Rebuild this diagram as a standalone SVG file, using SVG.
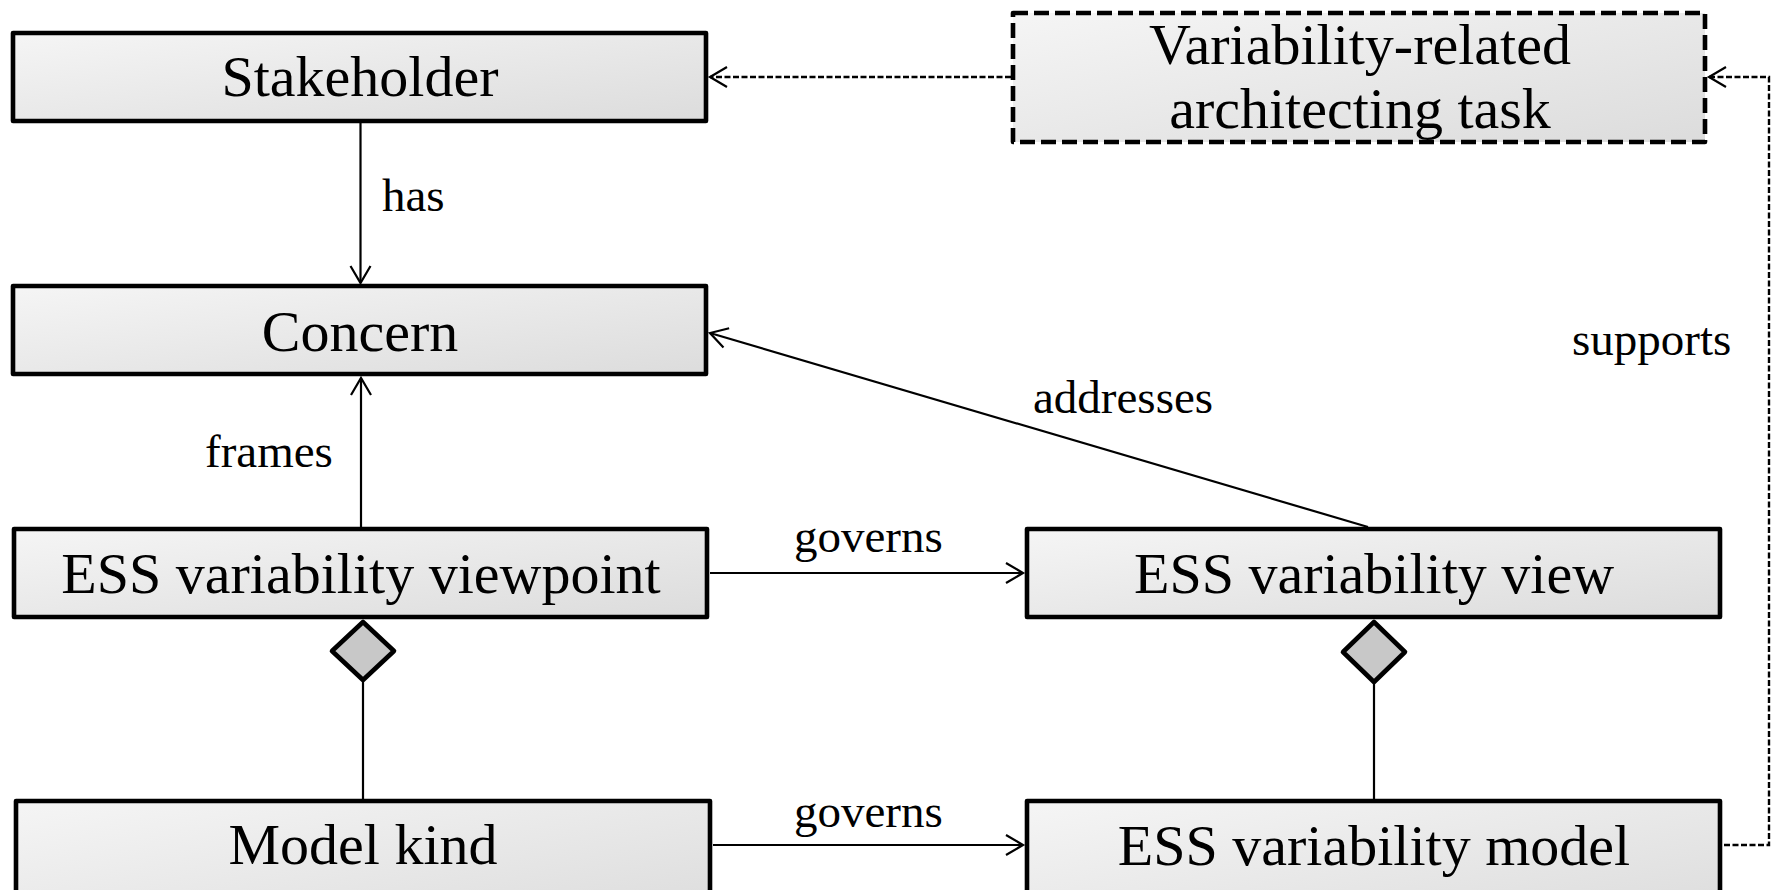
<svg xmlns="http://www.w3.org/2000/svg" width="1777" height="890" viewBox="0 0 1777 890">
<style>
.box{fill:url(#g);stroke:#000;stroke-width:4.6;stroke-linejoin:round}
.dbox{fill:url(#g);stroke:#000;stroke-width:4.6;stroke-dasharray:15 6;stroke-linejoin:round}
.nt{font-family:"Liberation Serif","Times New Roman",serif;font-size:58px;fill:#000;text-anchor:middle}
.lb{font-family:"Liberation Serif","Times New Roman",serif;font-size:47px;fill:#000}
.c{fill:none;stroke:#000;stroke-width:2.2}
.cd{fill:none;stroke:#000;stroke-width:2.4;stroke-dasharray:6 2.5}
.dia{fill:#c8c8c8;stroke:#000;stroke-width:4.6;stroke-linejoin:round}
</style>
<defs>
<linearGradient id="g" x1="0" y1="0" x2="1" y2="1">
<stop offset="0" stop-color="#f5f5f5"/>
<stop offset="1" stop-color="#dcdcdc"/>
</linearGradient>
<marker id="a" markerUnits="userSpaceOnUse" markerWidth="24" markerHeight="24" viewBox="-20 -12 24 24" refX="0" refY="0" orient="auto" overflow="visible">
<path d="M-17,-10 L0,0 L-17,10" fill="none" stroke="#000" stroke-width="2.2"/>
</marker>
</defs>
<g id="connectors">
<line class="c" x1="360.5" y1="123" x2="360.5" y2="283" marker-end="url(#a)"/>
<line class="c" x1="361" y1="527" x2="361" y2="378" marker-end="url(#a)"/>
<line class="c" x1="1368" y1="527" x2="710" y2="333" marker-end="url(#a)"/>
<line class="c" x1="710" y1="573" x2="1023" y2="573" marker-end="url(#a)"/>
<line class="c" x1="713" y1="845" x2="1023" y2="845" marker-end="url(#a)"/>
<line class="c" x1="363" y1="681" x2="363" y2="799"/>
<line class="c" x1="1374" y1="683" x2="1374" y2="799"/>
<line class="cd" x1="1011" y1="77" x2="710" y2="77" marker-end="url(#a)"/>
<polyline class="cd" points="1724,845 1769,845 1769,77 1709,77" marker-end="url(#a)"/>
<text class="lb" x="382" y="211">has</text>
<text class="lb" x="205" y="467">frames</text>
<text class="lb" x="1033" y="413">addresses</text>
<text class="lb" x="1572" y="355">supports</text>
<text class="lb" x="794" y="552">governs</text>
<text class="lb" x="794" y="827">governs</text>
</g>
<g id="stakeholder">
<rect class="box" x="13" y="33" width="693" height="88"/>
<text class="nt" x="360" y="96">Stakeholder</text>
</g>
<g id="concern">
<rect class="box" x="13" y="286" width="693" height="88"/>
<text class="nt" x="360" y="351">Concern</text>
</g>
<g id="viewpoint">
<rect class="box" x="14" y="529" width="693" height="88"/>
<text class="nt" x="361" y="593">ESS variability viewpoint</text>
<polygon class="dia" points="363,622 394,651 363,680 332,651"/>
</g>
<g id="modelkind">
<rect class="box" x="16" y="801" width="694" height="120"/>
<text class="nt" x="363" y="864">Model kind</text>
</g>
<g id="view">
<rect class="box" x="1027" y="529" width="693" height="88"/>
<text class="nt" x="1374" y="593">ESS variability view</text>
<polygon class="dia" points="1374,622 1405,652 1374,682 1343,652"/>
</g>
<g id="model">
<rect class="box" x="1027" y="801" width="693" height="120"/>
<text class="nt" x="1374" y="865">ESS variability model</text>
</g>
<g id="task">
<rect class="dbox" x="1013" y="13" width="692" height="129"/>
<text class="nt" x="1360" y="64">Variability-related</text>
<text class="nt" x="1360" y="128">architecting task</text>
</g>
</svg>
